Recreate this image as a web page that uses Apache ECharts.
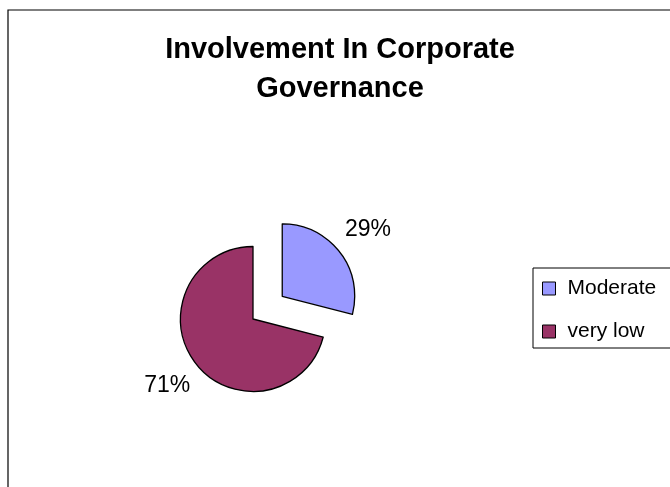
<!DOCTYPE html>
<html>
<head>
<meta charset="utf-8">
<script src="https://cdn.jsdelivr.net/npm/echarts@6/dist/echarts.min.js"></script>
<style>
html,body{margin:0;padding:0;background:#fff;}
#chart{width:670px;height:487px;}
</style>
</head>
<body>
<div id="chart"></div>
<script>
var titleText = 'Involvement In Corporate\nGovernance';
var categories = ['Moderate', 'very low'];
var values = [29, 71];
var colors = ['#9999FF', '#993366'];

var chart = echarts.init(document.getElementById('chart'), null, {renderer: 'canvas'});
var option = {
  animation: false,
  backgroundColor: '#ffffff',
  title: {
    text: titleText,
    left: 340,
    top: 30,
    padding: 0,
    textAlign: 'center',
    textStyle: {
      fontFamily: '"Liberation Sans", Arial, sans-serif',
      fontSize: 29,
      fontWeight: 'bold',
      color: '#000',
      lineHeight: 39
    }
  },
  legend: {
    orient: 'vertical',
    left: 533,
    top: 268,
    padding: [10, 30, 6, 9],
    itemGap: 22,
    itemWidth: 13,
    itemHeight: 13,
    icon: 'rect',
    selectedMode: false,
    borderColor: '#000',
    borderWidth: 1,
    itemStyle: {borderColor: '#000', borderWidth: 1},
    textStyle: {
      fontFamily: '"Liberation Sans", Arial, sans-serif',
      fontSize: 21,
      color: '#000',
      lineHeight: 21,
      padding: [0, 0, 0, 7]
    },
    data: categories
  },
  graphic: [{
    type: 'rect',
    shape: {x: 8, y: 10, width: 700, height: 520},
    style: {fill: 'none', stroke: '#000', lineWidth: 1.2},
    silent: true
  }],
  series: [{
    type: 'pie',
    center: [253, 319],
    radius: 72.5,
    startAngle: 90,
    clockwise: true,
    selectedMode: 'single',
    selectedOffset: 37,
    avoidLabelOverlap: false,
    emphasis: {disabled: true, scale: false},
    itemStyle: {borderColor: '#000', borderWidth: 1.3},
    label: {
      show: true,
      position: 'outside',
      formatter: '{d}%',
      fontFamily: '"Liberation Sans", Arial, sans-serif',
      fontSize: 23,
      color: '#000',
      distanceToLabelLine: 0
    },
    labelLine: {show: false, length: 36, length2: 0},
    labelLayout: function () { return {align: 'center', verticalAlign: 'middle'}; },
    data: categories.map(function (c, i) {
      return {name: c, value: values[i], selected: i === 0, itemStyle: {color: colors[i]}};
    })
  }]
};
chart.setOption(option);
</script>
</body>
</html>
